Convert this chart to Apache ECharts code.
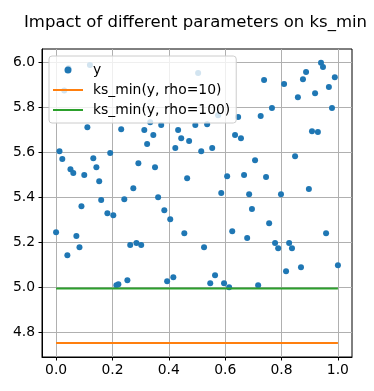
<!DOCTYPE html>
<html>
<head>
<meta charset="utf-8">
<script src="https://cdn.jsdelivr.net/npm/echarts@6/dist/echarts.min.js"></script>
<style>html,body{margin:0;padding:0;background:#fff}#c{width:374px;height:391px}</style>
</head>
<body>
<div id="c"></div>
<script>
const xs = [0.000,0.012,0.022,0.029,0.040,0.044,0.051,0.061,0.072,0.083,0.090,0.100,0.111,0.120,0.132,0.143,0.153,0.160,0.182,0.192,0.203,0.214,0.221,0.231,0.242,0.253,0.263,0.274,0.285,0.292,0.302,0.313,0.323,0.334,0.345,0.351,0.362,0.373,0.384,0.394,0.405,0.416,0.423,0.433,0.444,0.455,0.465,0.472,0.494,0.504,0.515,0.525,0.536,0.547,0.554,0.564,0.575,0.586,0.596,0.607,0.614,0.625,0.635,0.646,0.656,0.667,0.678,0.685,0.695,0.706,0.717,0.726,0.738,0.745,0.756,0.766,0.777,0.788,0.798,0.809,0.816,0.827,0.837,0.848,0.858,0.869,0.876,0.887,0.897,0.908,0.919,0.929,0.940,0.947,0.958,0.968,0.979,0.989,1.000];
const ys = [5.244,5.604,5.569,5.874,5.142,5.973,5.524,5.507,5.227,5.178,5.360,5.498,5.711,5.987,5.573,5.533,5.471,5.387,5.329,5.596,5.320,5.009,5.013,5.702,5.391,5.031,5.187,5.440,5.196,5.551,5.187,5.698,5.636,5.733,5.676,5.533,5.400,5.720,5.342,5.027,5.302,5.044,5.618,5.698,5.662,5.240,5.484,5.649,5.720,5.951,5.604,5.178,5.724,5.018,5.618,5.053,5.764,5.418,5.018,5.493,5.000,5.249,5.676,5.756,5.662,5.498,5.218,5.413,5.347,5.564,5.009,5.760,5.920,5.489,5.284,5.796,5.196,5.173,5.413,5.902,5.071,5.196,5.173,5.582,5.844,5.089,5.924,5.956,5.436,5.693,5.862,5.689,5.997,5.978,5.240,5.889,5.796,5.933,5.098];
const lineX = [0, 1];
const rho10 = [4.752, 4.752];
const rho100 = [4.994, 4.994];
const xTicks = [0, 0.2, 0.4, 0.6, 0.8, 1.0];
const yTicks = [4.8, 5.0, 5.2, 5.4, 5.6, 5.8, 6.0];
const names = ['y', 'ks_min(y, rho=10)', 'ks_min(y, rho=100)'];

const chart = echarts.init(document.getElementById('c'), null, {renderer: 'canvas'});
const font = 'DejaVu Sans';
const lineIcon = 'path://M0,0H30V2H0Z';
chart.setOption({
  animation: false,
  textStyle: {fontFamily: font},
  title: {
    text: 'Impact of different parameters on ks_min',
    left: 19, top: 9,
    textStyle: {fontFamily: font, fontSize: 16.5, fontWeight: 'normal', color: '#000'}
  },
  grid: {left: 42, right: 22, top: 49, bottom: 34, show: true, borderColor: '#000', borderWidth: 1, backgroundColor: 'transparent'},
  legend: {
    orient: 'vertical', left: 49, top: 56,
    padding: [6, 6, 5, 4],
    itemGap: 4, itemWidth: 30, itemHeight: 7,
    backgroundColor: 'rgba(255,255,255,0.8)',
    borderColor: '#cccccc', borderWidth: 1, borderRadius: 3,
    textStyle: {fontFamily: font, fontSize: 13.9, color: '#000', lineHeight: 16, padding: [0, 0, 0, 5]},
    data: [
      {name: names[0], icon: 'circle'},
      {name: names[1], icon: lineIcon, itemStyle: {color: '#ff7f0e'}},
      {name: names[2], icon: lineIcon, itemStyle: {color: '#2ca02c'}}
    ]
  },
  xAxis: {
    type: 'value', min: -0.05, max: 1.05,
    axisLine: {show: true, onZero: false, lineStyle: {color: '#000', width: 1}},
    axisTick: {show: true, length: 3.5, lineStyle: {color: '#000'}, customValues: xTicks},
    axisLabel: {customValues: xTicks, margin: 6, fontFamily: font, fontSize: 13.9, color: '#000', formatter: v => v.toFixed(1)},
    splitLine: {show: true, lineStyle: {color: '#b0b0b0', width: 1}}
  },
  yAxis: {
    type: 'value', min: 4.69, max: 6.058,
    axisLine: {show: true, onZero: false, lineStyle: {color: '#000', width: 1}},
    axisTick: {show: true, length: 3.5, lineStyle: {color: '#000'}, customValues: yTicks},
    axisLabel: {customValues: yTicks, margin: 7, fontFamily: font, fontSize: 13.9, color: '#000', formatter: v => v.toFixed(1)},
    splitLine: {show: true, lineStyle: {color: '#b0b0b0', width: 1}}
  },
  series: [
    {name: names[0], type: 'scatter', symbolSize: 6, itemStyle: {color: '#1f77b4', opacity: 1},
     data: xs.map((x, i) => [x, ys[i]])},
    {name: names[1], type: 'line', symbol: 'none', lineStyle: {color: '#ff7f0e', width: 2}, itemStyle: {color: '#ff7f0e'},
     data: lineX.map((x, i) => [x, rho10[i]])},
    {name: names[2], type: 'line', symbol: 'none', lineStyle: {color: '#2ca02c', width: 2}, itemStyle: {color: '#2ca02c'},
     data: lineX.map((x, i) => [x, rho100[i]])}
  ]
});
</script>
</body>
</html>
